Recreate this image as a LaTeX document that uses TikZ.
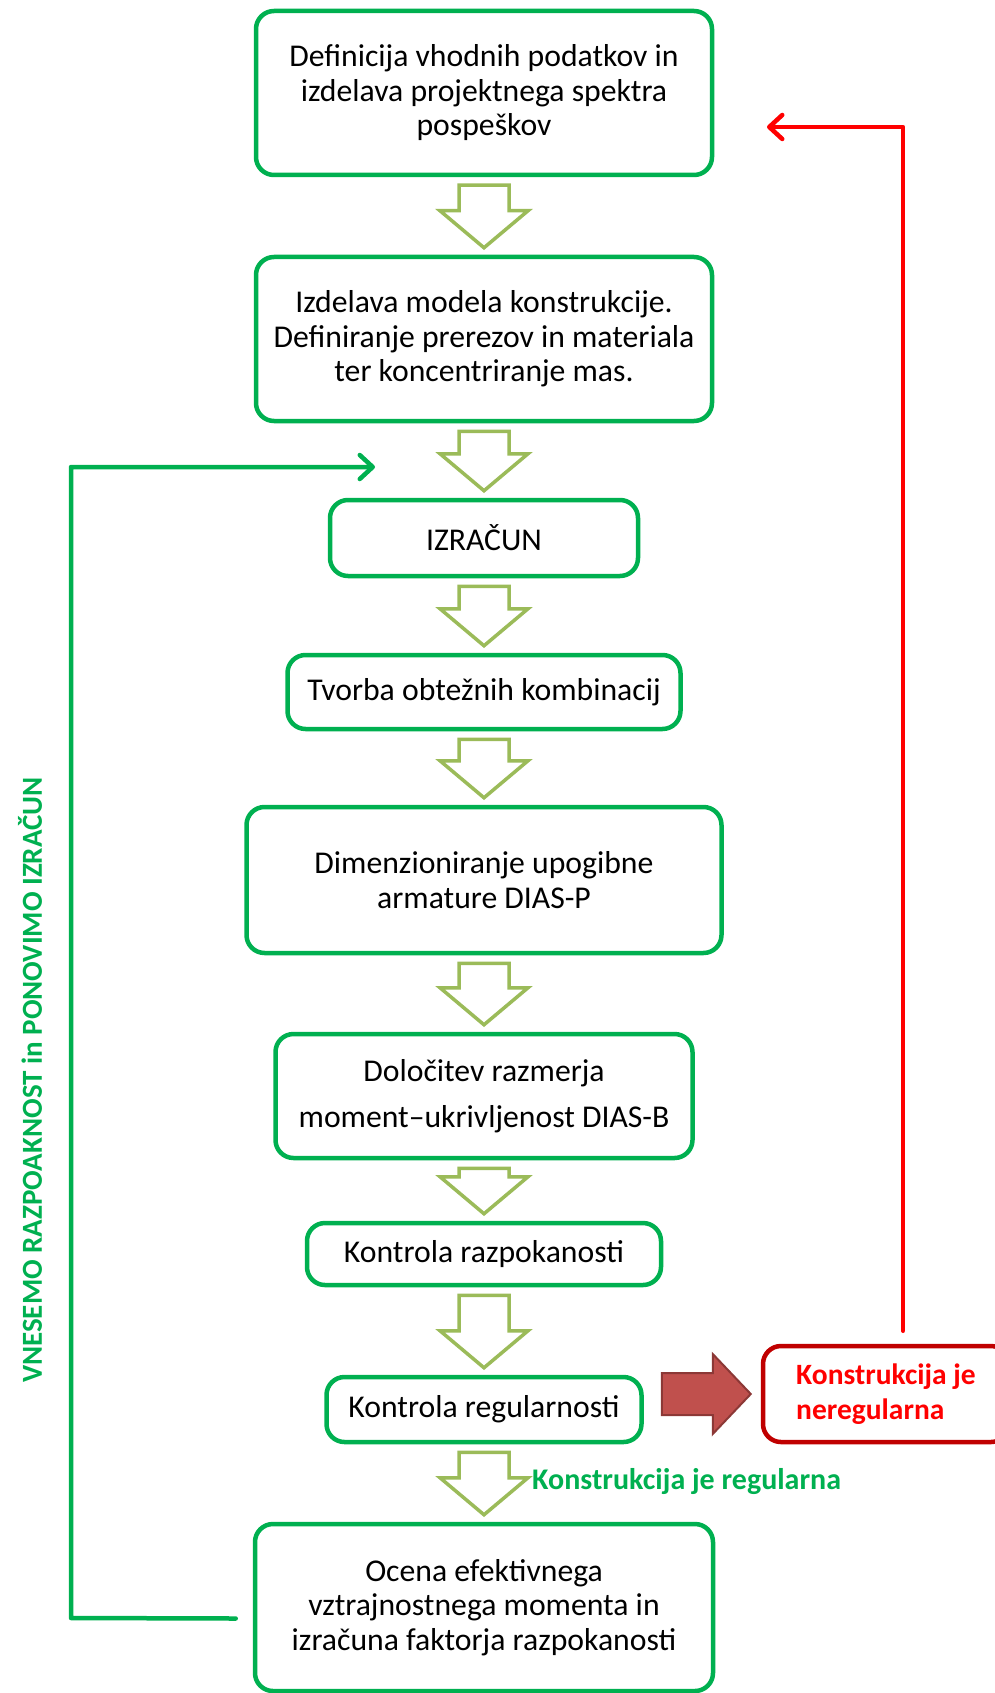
\documentclass[tikz,border=0pt]{standalone}
\usepackage{fontspec}
\setmainfont{Carlito}
\usetikzlibrary{calc,arrows.meta}
\definecolor{boxgreen}{HTML}{00B050}
\definecolor{olive}{HTML}{9BBB59}
\definecolor{boxred}{HTML}{C00000}
\definecolor{arrred}{HTML}{C0504D}
\definecolor{arrredd}{HTML}{8C3836}
\begin{document}
\begin{tikzpicture}[x=1pt, y=-1pt, line join=round, line cap=round,
	box/.style={draw=boxgreen, line width=4.5pt, rounded corners=18pt, align=center, inner sep=0pt, font=\fontsize{31.7}{34.5}\selectfont},
	hollow/.style={draw=olive, line width=3.5pt, fill=white, line join=miter},
	back/.style={line width=4.5pt, -{Straight Barb[round,length=13pt,width=24pt]}}]
	\useasboundingbox (0,0) rectangle (994,1693);
	% main column
	\node[box, minimum width=456pt, minimum height=164pt] (b1) at (484,93) {Definicija vhodnih podatkov in\\izdelava projektnega spektra\\pospeškov};
	\node[box, minimum width=456pt, minimum height=164pt] (b2) at (484,339) {Izdelava modela konstrukcije.\\Definiranje prerezov in materiala\\ter koncentriranje mas.};
	\node[box, minimum width=308pt, minimum height=76pt] (b3) at (484,538) {IZRAČUN};
	\node[box, minimum width=393pt, minimum height=74pt] (b4) at (484,692) {Tvorba obtežnih kombinacij};
	\node[box, minimum width=475pt, minimum height=146pt] (b5) at (484,880) {Dimenzioniranje upogibne\\armature DIAS-P};
	\node[box, minimum width=417pt, minimum height=124pt] (b6) at (484,1096) {Določitev razmerja\\[11pt]moment--ukrivljenost DIAS-B};
	\node[box, minimum width=354pt, minimum height=62pt] (b7) at (484,1254) {Kontrola razpokanosti};
	\node[box, minimum width=315pt, minimum height=65pt] (b8) at (484,1409.5) {Kontrola regularnosti};
	\node[box, minimum width=458pt, minimum height=167pt] (b9) at (484,1607.5) {Ocena efektivnega\\vztrajnostnega momenta in\\izračuna faktorja razpokanosti};
	\foreach \a/\b in {b1/b2,b2/b3,b3/b4,b4/b5,b5/b6,b6/b7,b7/b8,b8/b9}
		\draw[hollow] ($(\a.south)+(-25,8)$) -- ($(\a.south)+(25,8)$) -- ($(\b.north)+(25,-44)$) -- ($(\b.north)+(44,-44)$) -- ($(\b.north)+(0,-7)$) -- ($(\b.north)+(-44,-44)$) -- ($(\b.north)+(-25,-44)$) -- cycle;
	% irregular branch
	\node[draw=boxred, line width=4.5pt, rounded corners=18pt, align=left, text=red, font=\bfseries\fontsize{29.5}{35}\selectfont, minimum width=246pt, minimum height=96pt] (nereg) at (886,1394) {Konstrukcija je\\neregularna};
	\draw[fill=arrred, draw=arrredd, line width=2pt, line join=miter] ($(nereg.west)+(-99,-21)$) -- ($(nereg.west)+(-48,-21)$) -- ($(nereg.west)+(-48,-40)$) -- ($(nereg.west)+(-10,0)$) -- ($(nereg.west)+(-48,40)$) -- ($(nereg.west)+(-48,21)$) -- ($(nereg.west)+(-99,21)$) -- cycle;
	\path
	(903,127) coordinate (rbend)
	(767,127) coordinate (rtip)
	(71,1618) coordinate (gdown)
	(71,467) coordinate (gup)
	(375,467) coordinate (gtip)
	;
	\draw[back, red] ($(nereg.north -| rbend)+(0,-13)$) -- (rbend) -- (rtip);
	\draw[back, boxgreen] ($(b9.west)+(-17,11)$) -- (gdown) -- (gup) -- (gtip);
	% labels
	\node[rotate=90, text=boxgreen, font=\bfseries\fontsize{29}{31}\selectfont] (vlabel) at (30,1080) {VNESEMO RAZPOAKNOST in PONOVIMO IZRAČUN};
	\node[anchor=west, inner sep=0pt, text=boxgreen, font=\bfseries\fontsize{30}{32}\selectfont] (reglabel) at (532,1481) {Konstrukcija je regularna};
\end{tikzpicture}
\end{document}
